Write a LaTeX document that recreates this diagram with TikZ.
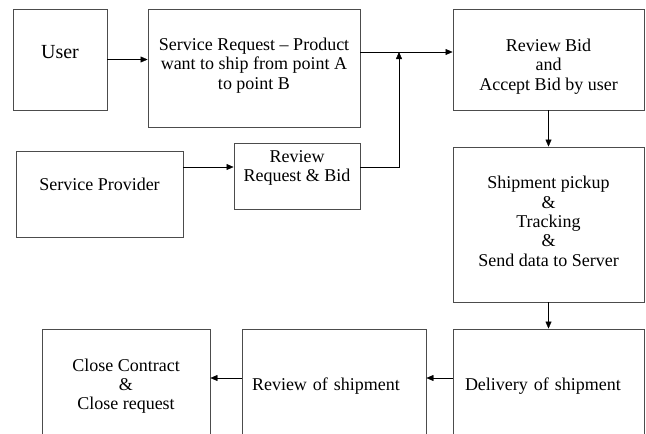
\documentclass[tikz,border=0pt]{standalone}
\usepackage{fontspec}
\setmainfont{Liberation Serif}
\usetikzlibrary{arrows.meta}

\begin{document}
\begin{tikzpicture}[x=1pt, y=-1pt,
  box/.style = {draw=black!70, line width=0.9pt, align=center, inner sep=0pt, font=\fontsize{18}{19.3}\selectfont},
  >={Triangle[length=7pt, width=6pt]}]
	\useasboundingbox (0,0) rectangle (646,434);
	\clip (0,0) rectangle (646,434);
	\node[box, minimum width=94, minimum height=101, text depth=16pt, font=\fontsize{20}{22}\selectfont] (user) at (60,59.5) {User};
	\node[box, minimum width=212, minimum height=118, text depth=9pt] (request) at (254,68) {Service Request -- Product\\want to ship from point A\\to point B};
	\node[box, minimum width=191, minimum height=101, text height=65pt] (rbid) at (548.5,59.5) {Review Bid\\and\\Accept Bid by user};
	\node[box, minimum width=167, minimum height=86, text depth=20pt] (provider) at (99.5,194) {Service Provider};
	\node[box, minimum width=126, minimum height=66, text depth=19.6pt] (rreq) at (297,176) {Review\\Request \& Bid};
	\node[box, minimum width=191, minimum height=155, text depth=6.5pt] (ship) at (548.5,224.5) {Shipment pickup\\\&\\Tracking\\\&\\Send data to Server};
	\node[box, minimum width=191, minimum height=114, text width=167pt, inner xsep=12pt, align=left] (deliv) at (548.5,386) {Delivery of shipment};
	\node[box, minimum width=184, minimum height=114, text width=164pt, inner xsep=10pt, align=left] (review) at (334,386) {Review of shipment};
	\node[box, minimum width=168, minimum height=114] (close) at (126,386) {Close Contract\\\&\\Close request};
	\coordinate (out) at ([yshift=16pt]request.east);
	\coordinate (merge) at (399,52);
	\coordinate (rreq-in) at ([yshift=9pt]rreq.west);
	\coordinate (deliv-out) at ([yshift=8pt]deliv.west);
	\draw[->] (user.east) -- (user.east -| request.west);
	\draw[->] (out) -- (out -| rbid.west);
	\draw[->] (provider.east |- rreq-in) -- (rreq-in);
	\draw[->] (rreq.east |- rreq-in) -| (merge);
	\draw[->] (rbid) -- (ship);
	\draw[->] (ship) -- (deliv);
	\draw[->] (deliv-out) -- (deliv-out -| review.east);
	\draw[->] (deliv-out -| review.west) -- (deliv-out -| close.east);
\end{tikzpicture}
\end{document}
